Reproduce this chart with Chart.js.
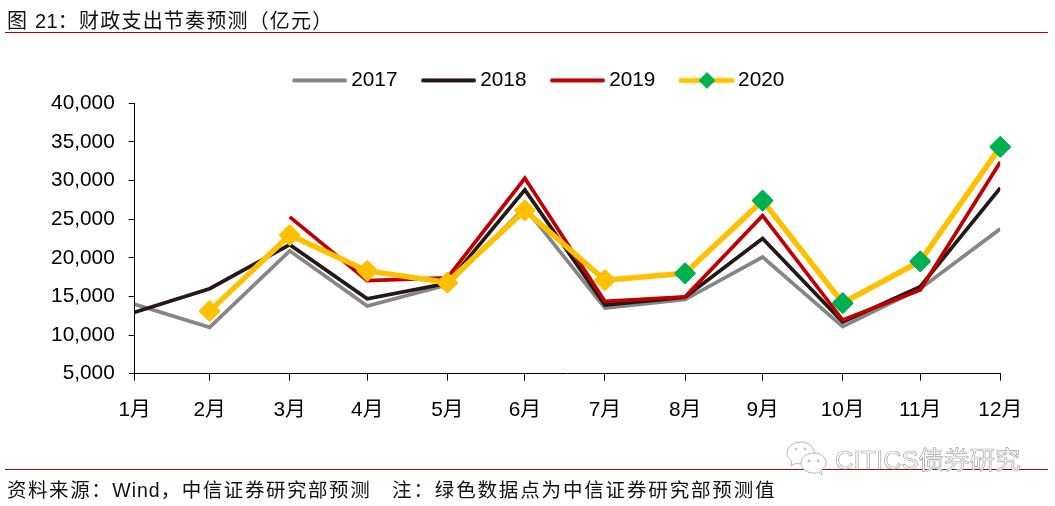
<!DOCTYPE html>
<html lang="zh">
<head>
<meta charset="utf-8">
<title>财政支出节奏预测</title>
<script src="https://cdn.jsdelivr.net/npm/chart.js@4"></script>
<style>
    html, body { margin: 0; padding: 0; background: #fff; }
    #page { position: relative; width: 1055px; height: 506px; overflow: hidden; font-family: "Liberation Sans", "Noto Sans CJK SC", sans-serif; color: #111; }
    #chart { position: absolute; left: 0; top: 0; }
    .note { position: absolute; left: 7px; white-space: pre; }
    .note .latin { letter-spacing: 0.3px; }
    #title { top: 5px; font-size: 20px; letter-spacing: 1.2px; }
    #source { top: 474px; font-size: 19.5px; letter-spacing: 1.55px; }
    #source .latin { letter-spacing: 1px; }
    #source .wide { letter-spacing: 1.85px; }
    .rule { position: absolute; left: 5px; width: 1043px; height: 1px; }
    #ruleTop { top: 32px; background: #c00000; }
    #ruleBottom { top: 469px; background: #9c0f0f; }
    #mark { position: absolute; left: 786px; top: 440px; width: 240px; height: 40px; }
    #markText { position: absolute; left: 49px; top: -1px; font-size: 25.5px; white-space: pre; color: #fff; -webkit-text-stroke: 0.7px #a6a6a6; }
</style>
</head>
<body>
<div id="page">
    <canvas id="chart" width="1055" height="506"></canvas>
    <div class="note" id="title">图 <span class="latin">21</span>：财政支出节奏预测（亿元）</div>
    <div class="rule" id="ruleTop"></div>
    <div class="rule" id="ruleBottom"></div>
    <div class="note" id="source">资料来源：<span class="latin">Wind</span>，中信证券研究部预测   <span class="wide">注：绿色数据点为中信证券研究部预测值</span></div>
    <div id="mark">
        <svg width="44" height="40" fill="#fff" stroke="#b5b5b5" stroke-width="1">
            <path d="M15 2c-8 0-14 5-14 11 0 4 2 6 5 8l-1 5 5-3c2 1 4 1 6 0 1-6 7-10 13-9-1-7-7-12-14-12z"/>
            <path d="M28 13c-7 0-13 4-13 10s6 10 13 10c2 0 3 0 4-1l4 3-1-5c3-2 5-4 5-7 0-6-5-10-12-10z"/>
            <circle cx="23" cy="21" r="1"/><circle cx="32" cy="21" r="1"/><circle cx="10" cy="9" r="1"/><circle cx="19" cy="9" r="1"/>
        </svg>
        <div id="markText">CITICS债券研究</div>
    </div>
</div>

<script>
// Data, 亿元
const months = ['1月', '2月', '3月', '4月', '5月', '6月', '7月', '8月', '9月', '10月', '11月', '12月'];
// the source chart has a date axis (2020), so each month sits at its month-end day
const monthEndDays = [31, 60, 91, 121, 152, 182, 213, 244, 274, 305, 335, 366];
const yTicks = [5000, 10000, 15000, 20000, 25000, 30000, 35000, 40000];

const values2017 = [14000, 11000, 20900, 13750, 16500, 26500, 13500, 14600, 20100, 11100, 16000, 23750];
const values2018 = [12950, 16000, 21700, 14700, 16700, 28800, 13900, 14900, 22500, 11700, 16250, 29050];
const values2019 = [null, null, 25300, 17050, 17400, 30300, 14350, 14950, 25450, 11950, 15850, 32400];
const values2020 = [null, 13100, 22950, 18300, 16800, 26150, 17100, 18000, 27400, 14150, 19550, 34350];

const GREY = '#868686';
const BLACK = '#231815';
const RED = '#c00000';
const YELLOW = '#ffc000';
const GREEN = '#00b050';
const markerColors2020 = [YELLOW, YELLOW, YELLOW, YELLOW, YELLOW, YELLOW, YELLOW, GREEN, GREEN, GREEN, GREEN, GREEN];

const FONT = '"Liberation Sans", "Noto Sans CJK SC", sans-serif';

function toPoints(values) {
    return values.map((v, i) => ({ x: monthEndDays[i], y: v }));
}

// Legend sample: short line, with a diamond for the 2020 series
function legendSample(color, width, diamond) {
    const c = document.createElement('canvas');
    c.width = 58;
    c.height = 20;
    const ctx = c.getContext('2d');
    ctx.strokeStyle = color;
    ctx.lineWidth = width;
    ctx.lineCap = 'round';
    ctx.beginPath();
    ctx.moveTo(3, 10);
    ctx.lineTo(54, 10);
    ctx.stroke();
    if (diamond) {
        ctx.fillStyle = diamond;
        ctx.strokeStyle = diamond;
        ctx.lineWidth = 2;
        ctx.lineJoin = 'round';
        ctx.beginPath();
        ctx.moveTo(29, 3);
        ctx.lineTo(36, 10);
        ctx.lineTo(29, 17);
        ctx.lineTo(22, 10);
        ctx.closePath();
        ctx.fill();
        ctx.stroke();
    }
    return c;
}

const legendSamples = [
    legendSample(GREY, 4),
    legendSample(BLACK, 4),
    legendSample(RED, 4),
    legendSample(YELLOW, 5, GREEN)
];

// Round the diamond corners, lines keep their own join style
const roundJoinPlugin = {
    id: 'roundJoin',
    beforeDatasetsDraw(chart) {
        chart.ctx.lineJoin = 'round';
    }
};

// Empty axis that only takes up room, so the legend can stay centred on the page
function spacerScale(position, size) {
    return {
        position: position,
        grid: { display: false },
        border: { display: false },
        ticks: { display: false },
        afterFit(scale) {
            if (position === 'top') scale.height = size;
            else scale.width = size;
        }
    };
}

new Chart(document.getElementById('chart').getContext('2d'), {
    type: 'line',
    data: {
        datasets: [
            { label: '2017', data: toPoints(values2017), borderColor: GREY, borderWidth: 3.7, pointRadius: 0, order: 4 },
            { label: '2018', data: toPoints(values2018), borderColor: BLACK, borderWidth: 3.7, pointRadius: 0, order: 3 },
            { label: '2019', data: toPoints(values2019), borderColor: RED, borderWidth: 3.7, pointRadius: 0, order: 2 },
            {
                label: '2020',
                data: toPoints(values2020),
                borderColor: YELLOW,
                borderWidth: 5.5,
                pointStyle: 'rectRot',
                pointRadius: 9.5,
                pointBorderWidth: 2.5,
                pointBackgroundColor: markerColors2020,
                pointBorderColor: markerColors2020,
                clip: false,
                order: 1
            }
        ]
    },
    plugins: [roundJoinPlugin],
    options: {
        responsive: false,
        animation: false,
        layout: { padding: { left: 28.7, right: 0, top: 39.2, bottom: 0 } },
        elements: { line: { tension: 0, borderJoinStyle: 'miter', borderCapStyle: 'butt' } },
        plugins: {
            tooltip: { enabled: false },
            legend: {
                position: 'top',
                labels: {
                    color: '#000',
                    font: { size: 20.8, family: FONT },
                    padding: 30.8,
                    usePointStyle: true,
                    pointStyleWidth: 41.5,
                    generateLabels(chart) {
                        return chart.data.datasets.map((ds, i) => ({
                            text: ds.label,
                            datasetIndex: i,
                            pointStyle: legendSamples[i],
                            fontColor: '#000',
                            lineWidth: 0
                        }));
                    }
                }
            }
        },
        scales: {
            x: {
                type: 'linear',
                min: monthEndDays[0],
                max: monthEndDays[11],
                afterBuildTicks(scale) {
                    scale.ticks = monthEndDays.map(d => ({ value: d }));
                },
                afterFit(scale) {
                    scale.height = 132.3;
                },
                grid: { drawOnChartArea: false, color: '#000', tickLength: 7, tickWidth: 1 },
                border: { color: '#000', width: 1 },
                ticks: {
                    autoSkip: false,
                    maxRotation: 0,
                    padding: 17,
                    color: '#000',
                    font: { size: 20.8, family: FONT },
                    callback(value, index) {
                        return months[index];
                    }
                }
            },
            y: {
                min: 5000,
                max: 40000,
                afterBuildTicks(scale) {
                    scale.ticks = yTicks.map(v => ({ value: v }));
                },
                afterFit(scale) {
                    scale.width = 106;
                },
                grid: { drawOnChartArea: false, color: '#000', tickLength: 6, tickWidth: 1 },
                border: { color: '#000', width: 1 },
                ticks: {
                    padding: 14,
                    color: '#000',
                    font: { size: 20.8, family: FONT },
                    callback(value) {
                        return value.toLocaleString('en-US');
                    }
                }
            },
            xTop: Object.assign({ axis: 'x' }, spacerScale('top', 2.5)),
            yRight: Object.assign({ axis: 'y' }, spacerScale('right', 54.7))
        }
    }
});
</script>
</body>
</html>
